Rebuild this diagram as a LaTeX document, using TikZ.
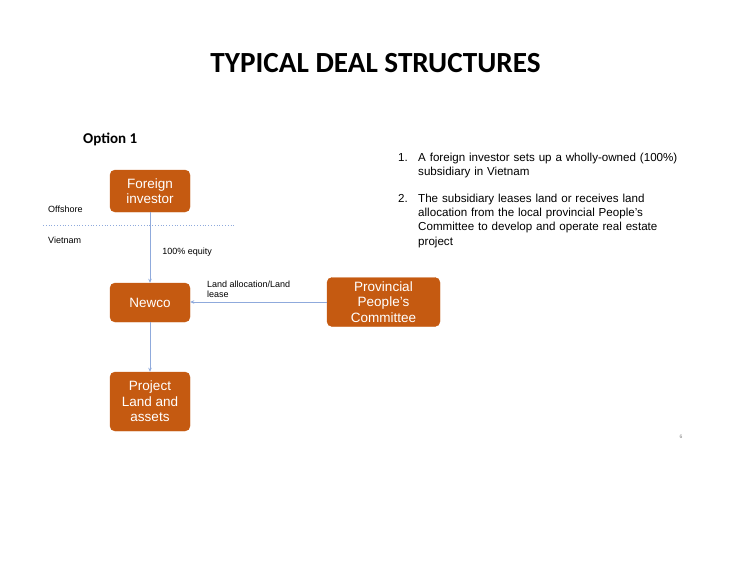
\documentclass[tikz,border=0pt]{standalone}
\usepackage{fontspec}
\setmainfont{Liberation Sans}
\newfontfamily\calib{Carlito}
\usepackage{tikz}
\usetikzlibrary{arrows.meta}
\definecolor{dealorange}{HTML}{C55A11}
\definecolor{linkblue}{HTML}{8FAADC}
\tikzset{
  entity/.style={draw=dealorange,fill=dealorange,rounded corners=5pt,text=white,align=center,
    inner sep=0pt,minimum width=80pt,font=\fontsize{13.5}{15.5}\selectfont},
  flow/.style={draw=linkblue,line width=0.7pt,-{Stealth[length=4pt,width=3.5pt]}},
  small/.style={font=\fontsize{9}{10.5}\selectfont,align=left},
  point/.style={font=\fontsize{11.6}{14.4}\selectfont,align=left,anchor=base west,inner sep=0pt},
}
\begin{document}
\begin{tikzpicture}[x=1pt,y=-1pt]
  \useasboundingbox (0,0) rectangle (750,563);
  \node[font=\calib\bfseries\fontsize{29.2}{33}\selectfont] (title) at (375.5,63) {TYPICAL DEAL STRUCTURES};
  \node[font=\calib\bfseries\fontsize{15}{17}\selectfont,anchor=west,inner sep=0pt] (opt) at (83,139) {Option 1};
  % entities
  \node[entity,minimum height=42pt] (inv) at (150,191) {Foreign\\investor};
  \node[entity,minimum height=39pt] (newco) at (150,302.5) {Newco};
  \node[entity,minimum height=49pt,minimum width=113pt] (ppc) at (383.5,302) {Provincial\\People's\\Committee};
  \node[entity,minimum height=59pt] (proj) at (150,401.5) {Project\\Land and\\assets};
  % offshore / onshore split
  \coordinate (split-l) at (43,225);
  \coordinate (split-r) at (235,225);
  \draw[linkblue,dotted,line width=0.8pt] (split-l) -- (split-r);
  \node[small,anchor=west,inner sep=0pt] (off) at (48,209) {Offshore};
  \node[small,anchor=west,inner sep=0pt] (viet) at (48,240) {Vietnam};
  % links
  \draw[flow] (inv) -- node[small,pos=0.57,right=12pt,inner sep=0pt] (eq) {100\% equity} (newco);
  \draw[flow] (ppc.west) -- (ppc.west -| newco.east) coordinate (land-end);
  \node[small,anchor=south west,inner sep=0pt] (lease) at (207,298) {Land allocation/Land\\lease};
  \draw[flow] (newco) -- (proj);
  % notes
  \node[point] (n1) at (398,161) {1.};
  \node[point,text width=290pt] (t1) at (418,161) {A foreign investor sets up a wholly-owned (100\%)\\subsidiary in Vietnam};
  \node[point] (n2) at (398,202) {2.};
  \node[point,text width=290pt] (t2) at (418,202) {The subsidiary leases land or receives land\\allocation from the local provincial People's\\Committee to develop and operate real estate\\project};
  \node[font=\fontsize{5}{6}\selectfont,text=gray] (page) at (681,437) {6};
\end{tikzpicture}
\end{document}
